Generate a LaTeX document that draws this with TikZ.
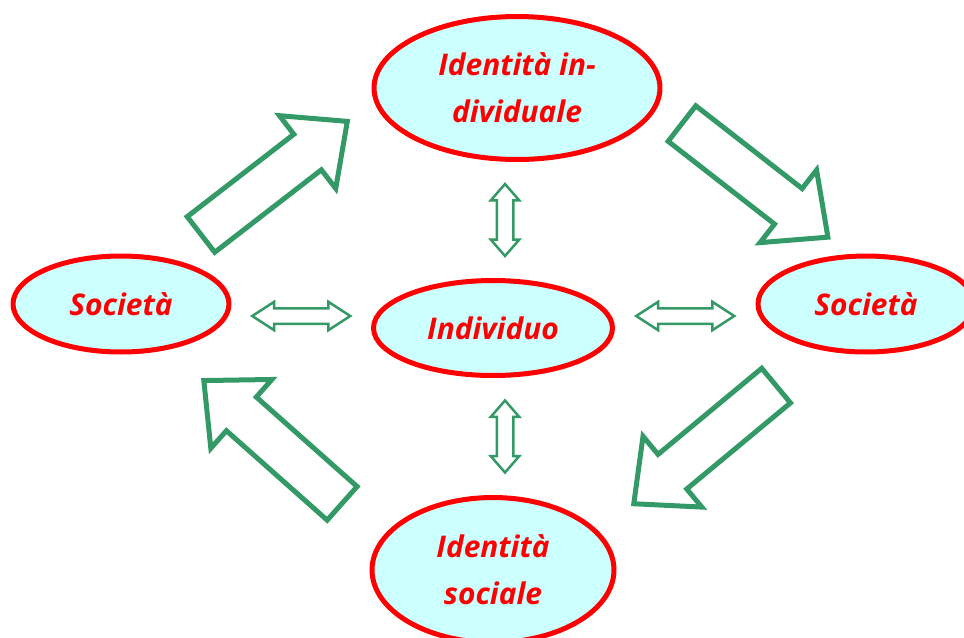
\documentclass[tikz,border=0pt]{standalone}
\usepackage{fontspec}
\setmainfont{Open Sans}
\definecolor{bubblered}{RGB}{255, 0, 0}
\definecolor{bubblefill}{RGB}{204, 255, 255}
\definecolor{arrowgreen}{RGB}{51, 153, 102}
\usepackage{tikz}
\usetikzlibrary{shapes.geometric, shapes.arrows, positioning, calc}
\tikzset{
  bubble/.style={ellipse, draw=bubblered, line width=0.1cm, fill=bubblefill, inner sep=0pt, align=center, text=bubblered, font=\fontsize{17}{26.7}\selectfont\bfseries\itshape},
  bigarrow/.style={single arrow, draw=arrowgreen, line width=0.1cm, inner sep=0.4cm, single arrow head extend=0.47cm, single arrow tip angle=85, minimum height=3.7cm, anchor=tail},
  linkv/.style={double arrow, draw=arrowgreen, line width=0.05cm, inner sep=0.14cm, double arrow head extend=0.12cm, double arrow tip angle=82, minimum height=1.44cm, rotate=90},
  linkh/.style={double arrow, draw=arrowgreen, line width=0.05cm, inner sep=0.13cm, double arrow head extend=0.13cm, double arrow tip angle=66, minimum height=1.96cm}
}

\begin{document}
\begin{tikzpicture}[x=0.02cm, y=-0.02cm]
  \useasboundingbox (0, 0) rectangle (964, 637);

  % Ellipses
  \node[bubble, minimum width=5.72cm, minimum height=2.86cm] (idind) at (517, 88) {Identità in-\\dividuale};
  \node[bubble, minimum width=4.78cm, minimum height=1.9cm] (indiv) at (493, 328) {Individuo};
  \node[bubble, minimum width=4.32cm, minimum height=1.92cm] (socl) at (121, 304) {Società};
  \node[bubble, minimum width=4.32cm, minimum height=1.92cm] (socr) at (866, 304) {Società};
  \node[bubble, minimum width=4.84cm, minimum height=2.9cm] (idsoc) at (493, 570) {Identità\\sociale};

  % Double arrows round the centre
  \node[linkv] (linkup) at ($(indiv.north)!0.5!(idind.south)$) {};
  \coordinate (lowmid) at ($(indiv.south)!0.5!(idsoc.north)$);
  \node[linkv] (linkdown) at (linkup |- lowmid) {};
  \node[linkh] (linkleft) at ($(socl.east)!0.5!(indiv.west)$) {};
  \node[linkh] (linkright) at ($(indiv.east)!0.5!(socr.west)$) {};

  % Cycle arrows
  \node[bigarrow, rotate=37.7] (cycle1) at (199, 236) {};
  \node[bigarrow, rotate=-37.9] (cycle2) at (680, 122) {};
  \node[bigarrow, rotate=219.7] (cycle3) at (778, 384) {};
  \node[bigarrow, rotate=138.4] (cycle4) at (344, 505) {};
\end{tikzpicture}
\end{document}
